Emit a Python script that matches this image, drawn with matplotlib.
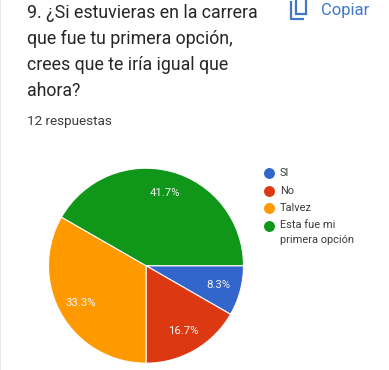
import matplotlib
matplotlib.use("Agg")
import matplotlib.pyplot as plt
from matplotlib.patches import Rectangle

categories = ["SI", "No", "Talvez", "Esta fue mi\nprimera opción"]
values = [8.3, 16.7, 33.3, 41.7]
colors = ["#3366cc", "#dc3912", "#ff9900", "#109618"]
title_lines = ["9. ¿Si estuvieras en la carrera", "que fue tu primera opción,", "crees que te iría igual que", "ahora?"]
subtitle = "12 respuestas"
copy_label = "Copiar"

W, H = 389, 370
plt.rcParams['font.family'] = ['Roboto', 'DejaVu Sans']

fig = plt.figure(figsize=(W / 100, H / 100), dpi=100)

# overlay in pixel coordinates for the page text
page = fig.add_axes([0, 0, 1, 1])
page.set_xlim(0, W)
page.set_ylim(H, 0)
page.axis('off')
page.add_patch(Rectangle((0, 0), 1.5, H, color="#e6e6e6", lw=0))

for i, line in enumerate(title_lines):
    page.text(27, 13 + i * 26, line, fontsize=12.8, color="#262626", va='center', ha='left')
page.text(27, 121, subtitle, fontsize=9.7, color="#3c3c3c", va='center', ha='left')
page.text(321, 10, copy_label, fontsize=12, color="#3f78c9", va='center', ha='left')

# copy icon
page.plot([291, 291, 304], [1, 19, 19], color="#3f78c9", lw=1.6, solid_capstyle='butt')
page.add_patch(Rectangle((296, -2), 10.5, 15.5, fill=False, ec="#3f78c9", lw=1.6))

# pie
cx, cy, r = 146, 265.7, 97.5
pie_ax = fig.add_axes([(cx - r) / W, 1 - (cy + r) / H, 2 * r / W, 2 * r / H])
wedges, _, autotexts = pie_ax.pie(
    values, colors=colors, startangle=0, counterclock=False, radius=1,
    autopct='%.1f%%', pctdistance=0.77,
    wedgeprops={'edgecolor': 'white', 'linewidth': 0.8},
    textprops={'color': '#f4f4f4', 'fontsize': 8.2},
)
pie_ax.set_xlim(-1, 1)
pie_ax.set_ylim(-1, 1)

# legend
leg_x, leg_y, leg_step = 269.3, 173, 17.6
for i, (name, c) in enumerate(zip(categories, colors)):
    y = leg_y + i * leg_step
    page.scatter([leg_x], [y], s=62, color=c, lw=0)
    if '\n' in name:
        page.text(279.7, y - 5.5, name, fontsize=7.9, color="#3c3c3c", va='top', ha='left', linespacing=1.55)
    else:
        page.text(279.7, y, name, fontsize=7.9, color="#3c3c3c", va='center', ha='left')

fig.savefig("out.png", dpi=100)
